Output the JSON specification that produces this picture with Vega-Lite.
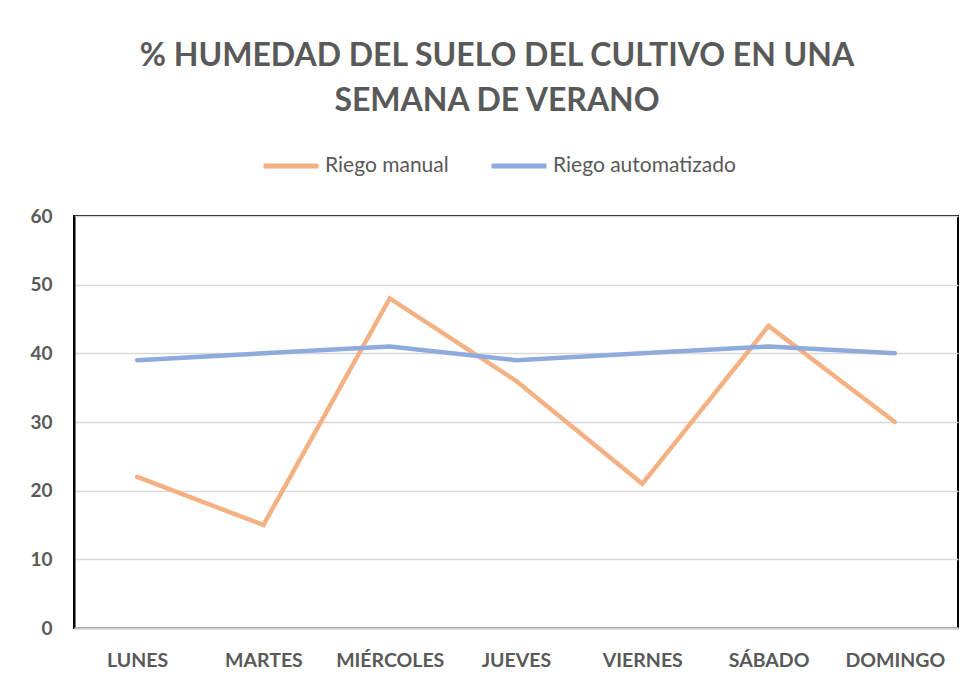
{
  "$schema": "https://vega.github.io/schema/vega-lite/v6.json",
  "width": 884,
  "height": 412,
  "autosize": {"type": "none"},
  "padding": {"left": 74, "top": 216, "right": 18, "bottom": 55},
  "background": "white",
  "title": {
    "text": ["% HUMEDAD DEL SUELO DEL CULTIVO EN UNA", "SEMANA DE VERANO"],
    "font": "Lato",
    "fontSize": 32,
    "fontWeight": "bold",
    "color": "#595959",
    "lineHeight": 45,
    "anchor": "middle",
    "dx": -19,
    "offset": 18
  },
  "data": {
    "values": [
      {"dia": "LUNES", "serie": "Riego manual", "valor": 22},
      {"dia": "MARTES", "serie": "Riego manual", "valor": 15},
      {"dia": "MIÉRCOLES", "serie": "Riego manual", "valor": 48},
      {"dia": "JUEVES", "serie": "Riego manual", "valor": 36},
      {"dia": "VIERNES", "serie": "Riego manual", "valor": 21},
      {"dia": "SÁBADO", "serie": "Riego manual", "valor": 44},
      {"dia": "DOMINGO", "serie": "Riego manual", "valor": 30},
      {"dia": "LUNES", "serie": "Riego automatizado", "valor": 39},
      {"dia": "MARTES", "serie": "Riego automatizado", "valor": 40},
      {"dia": "MIÉRCOLES", "serie": "Riego automatizado", "valor": 41},
      {"dia": "JUEVES", "serie": "Riego automatizado", "valor": 39},
      {"dia": "VIERNES", "serie": "Riego automatizado", "valor": 40},
      {"dia": "SÁBADO", "serie": "Riego automatizado", "valor": 41},
      {"dia": "DOMINGO", "serie": "Riego automatizado", "valor": 40}
    ]
  },
  "mark": {"type": "line", "strokeWidth": 4.5, "strokeCap": "round", "strokeJoin": "miter"},
  "encoding": {
    "x": {
      "field": "dia",
      "type": "ordinal",
      "sort": ["LUNES", "MARTES", "MIÉRCOLES", "JUEVES", "VIERNES", "SÁBADO", "DOMINGO"],
      "scale": {"type": "point", "padding": 0.5},
      "axis": {
        "title": null,
        "labelAngle": 0,
        "ticks": false,
        "grid": false,
        "domain": true,
        "domainColor": "#D0D0D0",
        "domainWidth": 2.5,
        "zindex": 1,
        "labelPadding": 23,
        "labelFont": "Lato",
        "labelFontSize": 19.5,
        "labelFontWeight": "bold",
        "labelColor": "#595959"
      }
    },
    "y": {
      "field": "valor",
      "type": "quantitative",
      "scale": {"domain": [0, 60], "nice": false},
      "axis": {
        "title": null,
        "values": [0, 10, 20, 30, 40, 50, 60],
        "ticks": false,
        "domain": true,
        "domainColor": "black",
        "domainWidth": 2,
        "grid": true,
        "gridColor": "#D9D9D9",
        "gridWidth": 1.5,
        "labelPadding": 22,
        "labelFont": "Lato",
        "labelFontSize": 19,
        "labelFontWeight": "bold",
        "labelColor": "#595959"
      }
    },
    "color": {
      "field": "serie",
      "type": "nominal",
      "scale": {"domain": ["Riego manual", "Riego automatizado"], "range": ["#F4B183", "#8FAADC"]},
      "legend": {
        "title": null,
        "orient": "none",
        "direction": "horizontal",
        "legendX": 187,
        "legendY": -80,
        "symbolType": "stroke",
        "symbolSize": 3025,
        "symbolStrokeWidth": 5,
        "labelOffset": 4,
        "labelLimit": 400,
        "columnPadding": 32,
        "labelFont": "Lato",
        "labelFontSize": 21,
        "labelColor": "#595959"
      }
    }
  },
  "config": {
    "view": {"stroke": "black", "strokeWidth": 2}
  }
}
